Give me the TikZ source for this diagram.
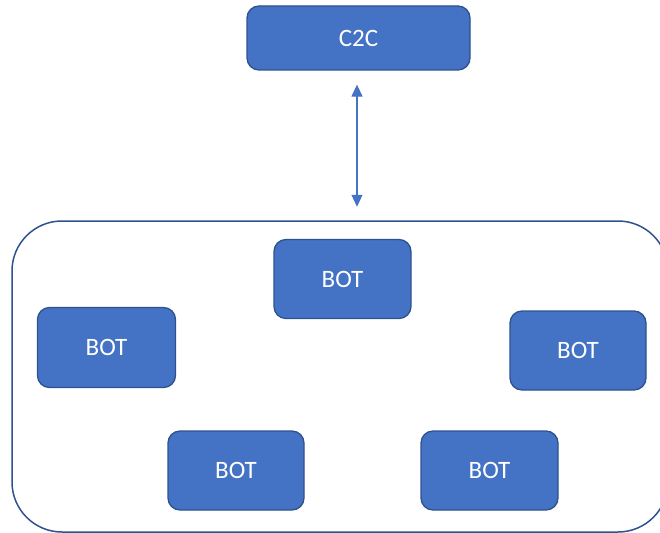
\documentclass[tikz,border=0pt]{standalone}
\usepackage{fontspec}
\setmainfont{Carlito}
\usetikzlibrary{arrows.meta,calc}
\definecolor{boxfill}{HTML}{4472C4}
\definecolor{boxline}{HTML}{2F528F}
\tikzset{
  unit/.style={rectangle, rounded corners=12pt, fill=boxfill, draw=boxline,
    line width=1.3pt, text=white, font=\fontsize{25}{29}\selectfont,
    inner sep=0pt},
  group/.style={rectangle, rounded corners=50pt, draw=boxline,
    line width=1.5pt, inner sep=0pt},
  link/.style={draw=boxfill, line width=1.2pt,
    {Triangle[width=11pt,length=12pt]}-{Triangle[width=11pt,length=12pt]}}
}
\begin{document}
\begin{tikzpicture}[x=1pt,y=-1pt]
  \useasboundingbox (0,0) rectangle (660,532);
  \clip (0,0) rectangle (660,532);
  % botnet container, partly off the page at right and bottom
  \node[group, minimum width=656pt, minimum height=311pt] (net) at (340,376.5) {};
  % command-and-control server
  \node[unit, minimum width=223pt, minimum height=64pt] (c2c) at (358.5,38) {C2C};
  % bots
  \node[unit, minimum width=137pt, minimum height=79pt] (b1) at (342.5,279) {BOT};
  \node[unit, minimum width=138pt, minimum height=80pt] (b2) at (106.5,347.5) {BOT};
  \node[unit, minimum width=136pt, minimum height=79pt] (b3) at (578,350.5) {BOT};
  \node[unit, minimum width=136pt, minimum height=79pt] (b4) at (236,470.5) {BOT};
  \node[unit, minimum width=137pt, minimum height=79pt] (b5) at (489.5,470.5) {BOT};
  % two-way link between C2C and the bots
  \draw[link, shorten <=14pt, shorten >=13.5pt]
    ([xshift=-1.5pt]c2c.south) -- ([xshift=-1.5pt]c2c.south |- net.north);
\end{tikzpicture}
\end{document}
